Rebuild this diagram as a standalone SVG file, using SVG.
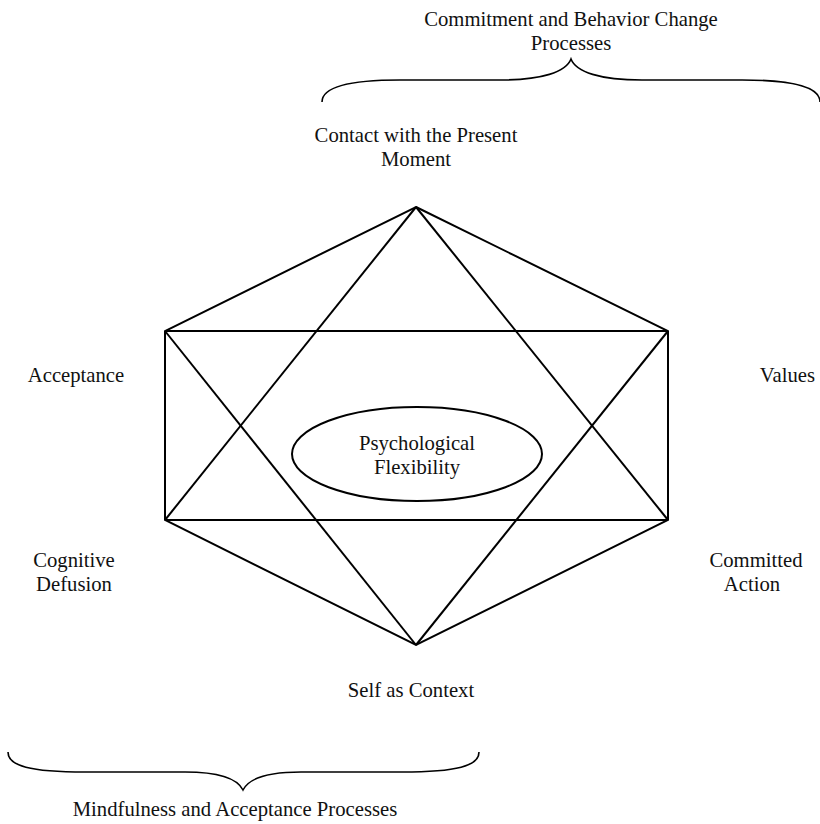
<svg xmlns="http://www.w3.org/2000/svg" width="820" height="824" viewBox="0 0 820 824">
<style>
  .t { font-family: "Liberation Serif", "Times New Roman", serif; font-size: 20.7px; fill: #111; text-anchor: middle; }
  .ln { stroke: #000; stroke-width: 2; fill: none; stroke-linejoin: miter; }
  .br { stroke: #000; stroke-width: 1.6; fill: none; }
</style>
<rect width="820" height="824" fill="#fff"/>
<g id="connectors">
  <polygon class="ln" points="416,207 668,331 668,520 416,645 165,520 165,331"/>
  <line class="ln" x1="165" y1="331" x2="668" y2="331"/>
  <line class="ln" x1="165" y1="520" x2="668" y2="520"/>
  <line class="ln" x1="416" y1="207" x2="165" y2="520"/>
  <line class="ln" x1="416" y1="207" x2="668" y2="520"/>
  <line class="ln" x1="416" y1="645" x2="165" y2="331"/>
  <line class="ln" x1="416" y1="645" x2="668" y2="331"/>
</g>
<g id="brace-top">
  <path class="br" d="M322,102 C322,88 345,80 400,80 L500,80 C542,80 566,72 571,59 C576,72 600,80 642,80 L742,80 C797,80 820,88 820,102"/>
  <text class="t" x="571" y="26">Commitment and Behavior Change</text>
  <text class="t" x="571" y="50">Processes</text>
</g>
<g id="brace-bottom">
  <path class="br" d="M8,752 C8,766 30,772 85,772 L185,772 C224,772 238,780 243,790 C248,780 262,772 301,772 L402,772 C457,772 479,766 479,752"/>
  <text class="t" x="235" y="816">Mindfulness and Acceptance Processes</text>
</g>
<g id="node-center">
  <ellipse class="ln" cx="417" cy="454" rx="125" ry="47"/>
  <text class="t" x="417" y="450">Psychological</text>
  <text class="t" x="417" y="474">Flexibility</text>
</g>
<g id="node-present">
  <text class="t" x="416" y="142">Contact with the Present</text>
  <text class="t" x="416" y="166">Moment</text>
</g>
<g id="node-acceptance">
  <text class="t" x="76" y="382">Acceptance</text>
</g>
<g id="node-values">
  <text class="t" x="815" y="382" style="text-anchor:end">Values</text>
</g>
<g id="node-defusion">
  <text class="t" x="74" y="567">Cognitive</text>
  <text class="t" x="74" y="591">Defusion</text>
</g>
<g id="node-committed">
  <text class="t" x="756" y="567">Committed</text>
  <text class="t" x="752" y="591">Action</text>
</g>
<g id="node-self">
  <text class="t" x="411" y="697">Self as Context</text>
</g>
</svg>
